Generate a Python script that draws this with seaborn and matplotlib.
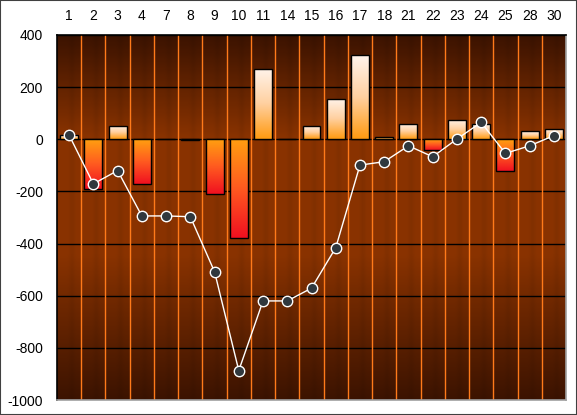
import numpy as np
import pandas as pd
import matplotlib
matplotlib.use("Agg")
import matplotlib.pyplot as plt
import seaborn as sns
from matplotlib.colors import LinearSegmentedColormap
from matplotlib.patches import Rectangle

categories = ["1", "2", "3", "4", "7", "8", "9", "10", "11", "14", "15",
              "16", "17", "18", "21", "22", "23", "24", "25", "28", "30"]
bar_values = [15, -190, 50, -170, 0, -4, -210, -380, 270, 0, 50,
              155, 322, 10, 60, -40, 75, 60, -120, 30, 40]
line_values = [16, -171, -120, -294, -294, -297, -508, -887, -620, -620, -571,
               -416, -99, -86, -25, -67, 1, 65, -54, -25, 14]
y_ticks = [-1000, -800, -600, -400, -200, 0, 200, 400]

df = pd.DataFrame({"day": categories, "bar": bar_values, "line": line_values})

sns.set_style("white")
plt.rcParams["font.family"] = ["Liberation Sans", "DejaVu Sans"]

fig = plt.figure(figsize=(5.77, 4.15), dpi=100)
ax = fig.add_axes([57 / 577, 1 - 400 / 415, (566 - 57) / 577, (400 - 35) / 415])

n = len(categories)

# background gradient
bg_cmap = LinearSegmentedColormap.from_list(
    "bg", [(0.0, "#3c1300"), (0.28, "#8a3300"), (0.6, "#8a3300"), (1.0, "#3c1300")])
rows = 300
cols = n * 24
vert = np.linspace(0, 1, rows)[:, None]
xs = (np.arange(cols) % 24) / 24.0
stripe = 1 - 0.06 * np.exp(-((xs - 0.6) / 0.12) ** 2)
img = bg_cmap(np.repeat(vert, cols, axis=1))
img[..., :3] *= stripe[None, :, None]
ax.imshow(img, extent=[-0.5, n - 0.5, -1000, 400], aspect="auto",
          origin="upper", zorder=0, interpolation="bilinear")

sns.barplot(data=df, x="day", y="bar", ax=ax, width=0.74,
            edgecolor="black", linewidth=1.0, color="orange", zorder=3)

pos_cmap = LinearSegmentedColormap.from_list("pos", ["#fff4ec", "#ffd0a0", "#ff9a10"])
neg_cmap = LinearSegmentedColormap.from_list("neg", ["#ffa010", "#ff5a20", "#f01020"])
grad = np.linspace(0, 1, 256)[:, None]
for p in list(ax.patches):
    x0, y0 = p.get_x(), p.get_y()
    w, h = p.get_width(), p.get_height()
    if h == 0:
        continue
    top = max(y0, y0 + h)
    bot = min(y0, y0 + h)
    cm = pos_cmap if h > 0 else neg_cmap
    im = ax.imshow(grad, cmap=cm, extent=[x0, x0 + w, bot, top], aspect="auto",
                   origin="upper", zorder=3, interpolation="bilinear")
    im.set_clip_path(p)
    p.set_facecolor("none")
    p.set_zorder(4)

sns.pointplot(data=df, x="day", y="line", ax=ax, color="white",
              markers="o", markersize=7.5, linewidth=1.0,
              markerfacecolor="#30383e", markeredgecolor="white",
              markeredgewidth=1.0, zorder=6)
for l in ax.lines:
    l.set_zorder(6)

# grid lines
for t in y_ticks:
    ax.axhline(t, color="black", lw=1.0, zorder=1)
for i in range(1, n):
    ax.axvline(i - 0.5, color="#ff7a1a", lw=1.0, zorder=1)

ax.set_xlim(-0.5, n - 0.5)
ax.set_ylim(-1000, 400)
ax.set_yticks(y_ticks)
ax.set_yticklabels([str(t) for t in y_ticks])
ax.set_xlabel("")
ax.set_ylabel("")
ax.xaxis.tick_top()
ax.tick_params(axis="x", length=0, pad=9, labelsize=10, colors="black")
ax.tick_params(axis="y", length=0, pad=10, labelsize=10, colors="black")
if ax.get_legend():
    ax.get_legend().remove()

for s in ["left", "top"]:
    ax.spines[s].set_color("black")
    ax.spines[s].set_linewidth(1.2)
for s in ["bottom", "right"]:
    ax.spines[s].set_color("#a0a0a0")
    ax.spines[s].set_linewidth(1.2)

fig.patches.append(Rectangle((0, 0), 1, 1, transform=fig.transFigure,
                             fill=False, edgecolor="#404040", lw=1.5))

fig.savefig("out.png", dpi=100)
